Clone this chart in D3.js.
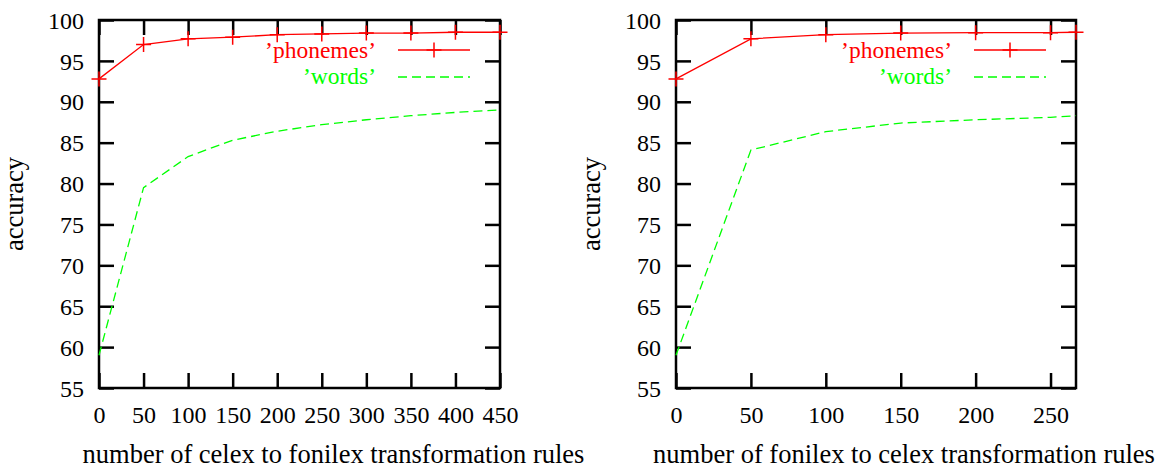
<!DOCTYPE html>
<html>
  <head>
    <meta charset="utf-8">
    <title>Accuracy</title>
    <script type="text/javascript" src="https://d3js.org/d3.v7.min.js"></script>
    <style>
      html, body { margin: 0; background: #fff; }
      text { font-family: "Liberation Serif", "Times New Roman", serif; }
    </style>
  </head>
  <body>
    <script>

    // left panel: celex -> fonilex
    var leftRules    = [0, 50, 100, 150, 200, 250, 300, 350, 400, 450];
    var leftPhonemes = [92.8, 97.0, 97.7, 97.9, 98.2, 98.3, 98.4, 98.4, 98.5, 98.5];
    var leftWords    = [59.0, 79.5, 83.3, 85.3, 86.4, 87.2, 87.8, 88.3, 88.7, 89.0];
    var leftTicks    = [0, 50, 100, 150, 200, 250, 300, 350, 400, 450];

    // right panel: fonilex -> celex
    var rightRules    = [0, 50, 100, 150, 200, 250, 267];
    var rightPhonemes = [92.8, 97.7, 98.2, 98.4, 98.45, 98.45, 98.5];
    var rightWords    = [59.0, 84.1, 86.35, 87.4, 87.8, 88.1, 88.3];
    var rightTicks    = [0, 50, 100, 150, 200, 250];

    var yTicks = [55, 60, 65, 70, 75, 80, 85, 90, 95, 100];

    var svg = d3.select("body")
                .append("svg")
                .attr("width", 1161)
                .attr("height", 468);

    var tickFont = 24, legFont = 23.5, titleFont = 26.5;

    function panel(opt) {
      var x = d3.scaleLinear().domain([0, opt.xmax]).range([opt.x0, opt.x1]);
      var y = d3.scaleLinear().domain([55, 100]).range([388, 20]);
      var g = svg.append("g");

      // ticks + labels (gnuplot style: inward, mirrored)
      var gl = g.append("g").attr("transform", "translate(" + opt.x0 + ",0)")
        .call(d3.axisLeft(y).tickValues(yTicks).tickSizeOuter(0).tickSizeInner(-15));
      var gr = g.append("g").attr("transform", "translate(" + opt.x1 + ",0)")
        .call(d3.axisRight(y).tickValues(yTicks).tickSizeOuter(0).tickSizeInner(-15).tickFormat(""));
      var gb = g.append("g").attr("transform", "translate(0,388)")
        .call(d3.axisBottom(x).tickValues(opt.ticks).tickSizeOuter(0).tickSizeInner(-15));
      var gt = g.append("g").attr("transform", "translate(0,20)")
        .call(d3.axisTop(x).tickValues(opt.ticks).tickSizeOuter(0).tickSizeInner(-15).tickFormat(""));

      [gl, gr, gb, gt].forEach(function(s) {
        s.select(".domain").remove();
        s.selectAll(".tick line").attr("stroke", "#000").attr("stroke-width", 2.5);
        s.selectAll(".tick text").attr("fill", "#000")
          .style("font-size", tickFont + "px").attr("font-family", null);
      });
      gl.selectAll(".tick text").attr("x", -15).attr("dy", "0.34em").attr("text-anchor", "end");
      gb.selectAll(".tick text").attr("y", 18).attr("dy", "0.71em");

      // frame
      g.append("rect")
        .attr("x", opt.x0).attr("y", 20)
        .attr("width", opt.x1 - opt.x0).attr("height", 368)
        .attr("fill", "none").attr("stroke", "#000").attr("stroke-width", 2.5);

      var line = d3.line()
        .x(function(d) { return x(d[0]); })
        .y(function(d) { return y(d[1]); });

      var words = opt.rules.map(function(r, i) { return [r, opt.words[i]]; });
      var phon  = opt.rules.map(function(r, i) { return [r, opt.phonemes[i]]; });

      g.append("path").datum(words).attr("d", line)
        .attr("fill", "none").attr("stroke", "#00ff00").attr("stroke-width", 1.3)
        .attr("stroke-dasharray", "9,5");

      g.append("path").datum(phon).attr("d", line)
        .attr("fill", "none").attr("stroke", "#ff0000").attr("stroke-width", 1.3);

      function plus(sel, cx, cy) {
        sel.append("path")
          .attr("d", "M" + (cx - 7.5) + "," + cy + "H" + (cx + 7.5) +
                     "M" + cx + "," + (cy - 7.5) + "V" + (cy + 7.5))
          .attr("stroke", "#ff0000").attr("stroke-width", 1.5);
      }
      phon.forEach(function(d) { plus(g, x(d[0]), y(d[1])); });

      // legend
      var lg = g.append("g");
      lg.append("text").attr("x", opt.legX - 22).attr("y", 58)
        .attr("text-anchor", "end").attr("fill", "#ff0000")
        .style("font-size", legFont + "px").text("\u2019phonemes\u2019");
      lg.append("line").attr("x1", opt.legX).attr("x2", opt.legX + 72)
        .attr("y1", 50).attr("y2", 50)
        .attr("stroke", "#ff0000").attr("stroke-width", 1.3);
      plus(lg, opt.legX + 36, 50);
      lg.append("text").attr("x", opt.legX - 22).attr("y", 84)
        .attr("text-anchor", "end").attr("fill", "#00ff00")
        .style("font-size", legFont + "px").text("\u2019words\u2019");
      lg.append("line").attr("x1", opt.legX).attr("x2", opt.legX + 72)
        .attr("y1", 77).attr("y2", 77)
        .attr("stroke", "#00ff00").attr("stroke-width", 1.3)
        .attr("stroke-dasharray", "9,5");

      // axis titles
      g.append("text")
        .attr("x", (opt.x0 + opt.x1) / 2 + opt.xlabShift).attr("y", 463)
        .attr("text-anchor", "middle")
        .style("font-size", titleFont + "px").text(opt.xlabel);
      g.append("text")
        .attr("transform", "translate(" + (opt.x0 - 76) + ",204) rotate(-90)")
        .attr("text-anchor", "middle")
        .style("font-size", titleFont + "px").text("accuracy");
    }

    panel({ x0: 99, x1: 500, xmax: 450, ticks: leftTicks, rules: leftRules,
            phonemes: leftPhonemes, words: leftWords, legX: 398, xlabShift: 34,
            xlabel: "number of celex to fonilex transformation rules" });
    panel({ x0: 676, x1: 1076, xmax: 267, ticks: rightTicks, rules: rightRules,
            phonemes: rightPhonemes, words: rightWords, legX: 974, xlabShift: 28,
            xlabel: "number of fonilex to celex transformation rules" });

    </script>
  </body>
</html>
